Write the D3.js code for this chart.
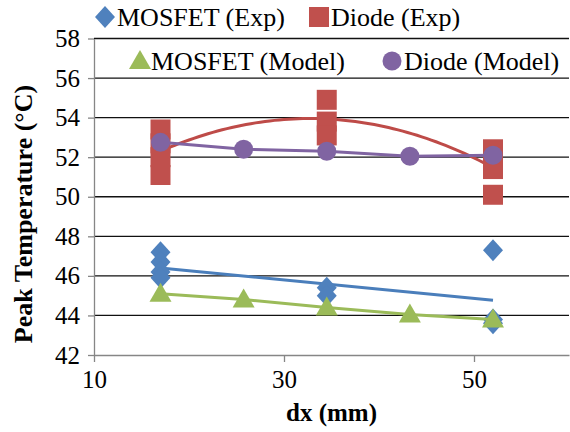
<!DOCTYPE html>
<html>
<head>
<meta charset="utf-8">
<script src="https://cdn.jsdelivr.net/npm/d3@7"></script>
<style>
  body { margin: 0; background: #fff; }
</style>
</head>
<body>
<div id="chart-area"></div>
<script>
var width = 570,
    height = 432;

var serif = "'Liberation Serif', 'Times New Roman', serif";

// measured data
var mosfetExpX = [17, 17, 17, 17, 34.5, 34.5, 52, 52, 52];
var mosfetExpY = [47.2, 46.7, 46.2, 45.9, 45.4, 45.0, 47.3, 43.8, 43.6];

var diodeExpX = [17, 17, 17, 17, 34.5, 34.5, 34.5, 52, 52, 52, 52];
var diodeExpY = [53.4, 52.7, 52.0, 51.1, 54.9, 53.8, 53.1, 52.4, 52.0, 51.4, 50.1];

// model data
var modelX = [17, 25.75, 34.5, 43.25, 52];
var mosfetModelY = [45.1, 44.8, 44.4, 44.05, 43.8];
var diodeModelY = [52.75, 52.4, 52.3, 52.05, 52.1];

var yTicks = [42, 44, 46, 48, 50, 52, 54, 56, 58];
var xTicks = [10, 30, 50];

var legendItems = ["MOSFET (Exp)", "Diode (Exp)", "MOSFET (Model)", "Diode (Model)"];

var blue = "#4f81bd", red = "#c0504d", green = "#9bbb59", purple = "#8064a2";

var svg = d3.select("#chart-area").append("svg")
    .attr("width", width)
    .attr("height", height)
    .style("font-family", serif);

var x = d3.scaleLinear().domain([10, 60]).range([94, 569]);
var y = d3.scaleLinear().domain([42, 58]).range([355, 38.5]);

// gridlines
svg.selectAll(".grid")
    .data(yTicks.slice(1))
    .enter().append("line")
    .attr("x1", x(10)).attr("x2", x(60))
    .attr("y1", d => y(d)).attr("y2", d => y(d))
    .style("stroke", "#111")
    .style("stroke-width", 1.3);

// axes
var yAxis = svg.append("g")
    .attr("transform", "translate(" + x(10) + ",0)")
    .call(d3.axisLeft(y).tickValues(yTicks).tickSize(6).tickPadding(8).tickSizeOuter(0));
var xAxis = svg.append("g")
    .attr("transform", "translate(0," + y(42) + ")")
    .call(d3.axisBottom(x).tickValues(xTicks).tickSize(7).tickPadding(8).tickSizeOuter(0));

[yAxis, xAxis].forEach(function(g) {
    g.attr("font-family", null);
    g.select(".domain").style("stroke", "#868686").style("stroke-width", 1.3);
    g.selectAll(".tick line").style("stroke", "#868686").style("stroke-width", 1.3);
    g.selectAll(".tick text")
        .style("font-family", serif)
        .style("font-size", "25px")
        .style("fill", "#000");
});

// axis titles
svg.append("text")
    .attr("x", x(35)).attr("y", 421)
    .attr("text-anchor", "middle")
    .style("font-size", "25px").style("font-weight", "bold")
    .text("dx (mm)");

svg.append("text")
    .attr("transform", "translate(32,214) rotate(-90)")
    .attr("text-anchor", "middle")
    .style("font-size", "26px").style("font-weight", "bold")
    .text("Peak Temperature (°C)");

// trendlines
function linFit(xs, ys) {
    var mx = d3.mean(xs), my = d3.mean(ys);
    var sxy = d3.sum(xs, (v, i) => (v - mx) * (ys[i] - my));
    var sxx = d3.sum(xs, v => (v - mx) * (v - mx));
    var b = sxy / sxx;
    return v => my + b * (v - mx);
}

function quadFit(xs, ys) {
    // normal equations for y = a + b x + c x^2
    var S = [0, 0, 0, 0, 0], T = [0, 0, 0];
    xs.forEach(function(v, i) {
        for (var k = 0; k < 5; k++) S[k] += Math.pow(v, k);
        for (var k = 0; k < 3; k++) T[k] += ys[i] * Math.pow(v, k);
    });
    var A = [[S[0], S[1], S[2], T[0]], [S[1], S[2], S[3], T[1]], [S[2], S[3], S[4], T[2]]];
    for (var i = 0; i < 3; i++) {
        for (var j = i + 1; j < 3; j++) {
            var f = A[j][i] / A[i][i];
            for (var k = i; k < 4; k++) A[j][k] -= f * A[i][k];
        }
    }
    var c = [0, 0, 0];
    for (var i = 2; i >= 0; i--) {
        var s = A[i][3];
        for (var k = i + 1; k < 3; k++) s -= A[i][k] * c[k];
        c[i] = s / A[i][i];
    }
    return v => c[0] + c[1] * v + c[2] * v * v;
}

var line = d3.line().x(d => x(d[0])).y(d => y(d[1]));

var mosFit = linFit(mosfetExpX, mosfetExpY);
svg.append("path")
    .attr("d", line([[17, mosFit(17)], [52, mosFit(52)]]))
    .style("fill", "none").style("stroke", "#4a7ebb").style("stroke-width", 3);

var dioFit = quadFit(diodeExpX, diodeExpY);
svg.append("path")
    .attr("d", line(d3.range(17, 52.01, 0.5).map(v => [v, dioFit(v)])))
    .style("fill", "none").style("stroke", "#be4b48").style("stroke-width", 3);

// marker shapes
var shapes = {
    diamond: "M0,-11L10,0L0,11L-10,0Z",
    square: "M-10,-10H10V10H-10Z",
    triangle: "M0,-11L11,8H-11Z",
    circle: d3.symbol().type(d3.symbolCircle).size(Math.PI * 9.5 * 9.5)()
};

function drawMarkers(xs, ys, shape, color) {
    svg.append("g").selectAll("path")
        .data(xs)
        .enter().append("path")
        .attr("d", shapes[shape])
        .attr("transform", (d, i) => "translate(" + x(d) + "," + y(ys[i]) + ")")
        .style("fill", color);
}

drawMarkers(mosfetExpX, mosfetExpY, "diamond", blue);
drawMarkers(diodeExpX, diodeExpY, "square", red);

svg.append("path")
    .attr("d", line(modelX.map((d, i) => [d, mosfetModelY[i]])))
    .style("fill", "none").style("stroke", green).style("stroke-width", 3);
drawMarkers(modelX, mosfetModelY, "triangle", green);

svg.append("path")
    .attr("d", line(modelX.map((d, i) => [d, diodeModelY[i]])))
    .style("fill", "none").style("stroke", purple).style("stroke-width", 3);
drawMarkers(modelX, diodeModelY, "circle", purple);

// legend
var legendPos = [
    {sx: 105, tx: 117, ty: 26, shape: "diamond", color: blue},
    {sx: 319, tx: 331, ty: 26, shape: "square", color: red},
    {sx: 140, tx: 151, ty: 70, shape: "triangle", color: green},
    {sx: 392, tx: 404, ty: 70, shape: "circle", color: purple}
];

var legend = svg.selectAll(".legend")
    .data(legendItems)
    .enter().append("g");

legend.append("path")
    .attr("d", (d, i) => shapes[legendPos[i].shape])
    .attr("transform", (d, i) => "translate(" + legendPos[i].sx + "," + (legendPos[i].ty - 9) + ")")
    .style("fill", (d, i) => legendPos[i].color);

legend.append("text")
    .attr("x", (d, i) => legendPos[i].tx)
    .attr("y", (d, i) => legendPos[i].ty)
    .style("font-size", "26px")
    .text(d => d);
</script>
</body>
</html>
